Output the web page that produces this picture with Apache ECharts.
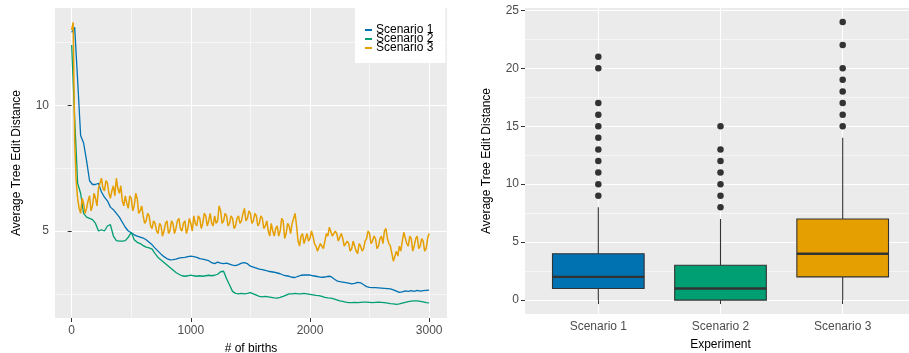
<!DOCTYPE html>
<html lang="en">
<head>
    <meta charset="UTF-8">
    <title>Average Tree Edit Distance</title>
    <script src="https://cdn.jsdelivr.net/npm/echarts@6/dist/echarts.min.js"></script>
</head>
<body style="margin:0;background:#fff;">
    <div id="main" style="width: 909px;height:353px;"></div>
    <script type="text/javascript">
        // left panel: Scenario 1 and 2 read every 25 births, Scenario 3 every 12.5 births
        var smoothStep = 25;
        var noisyStep = 12.5;
        var scenario1 = [
            12.9, 13.1, 11.0, 8.8, 8.5, 7.8, 7.0, 6.85,
            6.85, 6.9, 6.55, 6.35, 6.2, 5.95, 5.85, 5.7,
            5.55, 5.35, 5.15, 5.0, 4.93, 4.85, 4.8, 4.76,
            4.72, 4.65, 4.55, 4.45, 4.32, 4.2, 4.08, 3.98,
            3.9, 3.85, 3.86, 3.88, 3.92, 3.94, 3.95, 3.98,
            4.0, 3.98, 3.95, 3.9, 3.88, 3.85, 3.82, 3.74,
            3.7, 3.76, 3.72, 3.7, 3.72, 3.68, 3.64, 3.62,
            3.66, 3.72, 3.74, 3.7, 3.6, 3.56, 3.52, 3.48,
            3.46, 3.43, 3.4, 3.38, 3.36, 3.33, 3.3, 3.25,
            3.22, 3.2, 3.16, 3.15, 3.2, 3.24, 3.25, 3.25,
            3.25, 3.22, 3.2, 3.18, 3.16, 3.17, 3.2, 3.19,
            3.1, 3.02, 2.99, 2.97, 2.95, 2.93, 2.9, 2.92,
            2.96, 2.94, 2.86, 2.79, 2.76, 2.75, 2.75, 2.74,
            2.73, 2.72, 2.71, 2.7, 2.66, 2.61, 2.56, 2.58,
            2.62, 2.6, 2.63, 2.6, 2.64, 2.61, 2.63, 2.64,
            2.65
        ];
        var scenario2 = [
            12.4, 9.5, 6.9, 6.5, 5.7, 5.55, 5.5, 5.45,
            5.3, 5.0, 5.05, 5.0, 5.2, 5.25, 4.8, 4.62,
            4.6, 4.6, 4.62, 4.75, 4.95, 4.65, 4.55, 4.5,
            4.42, 4.36, 4.33, 4.28, 4.1, 3.95, 3.85, 3.75,
            3.65, 3.55, 3.45, 3.35, 3.28, 3.22, 3.2, 3.22,
            3.25, 3.22, 3.2, 3.22, 3.2, 3.22, 3.24, 3.22,
            3.24, 3.28, 3.38, 3.4, 3.1, 2.85, 2.6, 2.52,
            2.5, 2.52, 2.5, 2.52, 2.55, 2.5, 2.45, 2.4,
            2.38, 2.4, 2.38, 2.36, 2.34, 2.33, 2.36, 2.4,
            2.45, 2.5, 2.5, 2.52, 2.5, 2.5, 2.52, 2.5,
            2.48, 2.46, 2.44, 2.43, 2.4, 2.36, 2.34, 2.33,
            2.3, 2.26, 2.22, 2.2, 2.17, 2.15, 2.15, 2.16,
            2.15, 2.16, 2.17, 2.17, 2.16, 2.15, 2.16, 2.17,
            2.16, 2.15, 2.13, 2.11, 2.1, 2.08, 2.1, 2.13,
            2.16, 2.19, 2.21, 2.22, 2.22, 2.2, 2.18, 2.15,
            2.14
        ];
        var scenario3 = [
            13.0, 13.3, 8.6, 7.0, 6.3, 5.9, 5.7, 6.3, 6.1, 5.7, 5.9, 6.2, 6.4, 5.8, 6.0, 6.5,
            6.3, 6.0, 6.7, 6.9, 7.1, 6.7, 6.6, 7.0, 6.9, 6.5, 6.3, 6.6, 6.8, 6.4, 7.1, 6.7,
            6.5, 6.8, 6.2, 6.0, 6.4, 6.1, 5.9, 6.4, 6.3, 5.8, 6.0, 6.5, 6.3, 5.7, 5.8, 6.0,
            5.6, 5.3, 5.4, 5.7, 5.6, 5.2, 5.1, 5.4, 5.3, 5.0, 4.9, 5.3, 5.2, 4.8, 5.0, 5.3,
            5.4, 4.9, 5.0, 5.4, 5.3, 4.9, 5.1, 5.4, 5.5, 5.1, 5.0, 5.3, 5.4, 4.9, 5.1, 5.5,
            5.3, 5.0, 5.6, 5.3, 5.2, 5.6, 5.5, 5.1, 5.3, 5.7, 5.6, 5.2, 5.4, 5.7, 5.3, 5.2,
            5.6, 5.3, 5.4, 6.0, 5.8, 5.3, 5.4, 5.7, 5.6, 5.2, 5.3, 5.6, 5.5, 5.1, 5.2, 5.5,
            5.6, 5.3, 5.4, 5.7, 5.9, 5.4, 5.5, 5.8, 5.7, 5.3, 5.4, 5.7, 5.6, 5.2, 5.3, 5.6,
            5.5, 5.1, 5.2, 5.4, 5.0, 4.8, 5.3, 5.0, 4.8, 5.1, 5.2, 4.8, 5.0, 5.5, 5.4, 4.7,
            4.9, 5.3, 5.2, 4.9, 5.3, 5.5, 5.7, 5.2, 4.6, 4.4, 4.8, 4.9, 4.5, 4.7, 4.9, 4.6,
            4.7, 5.0, 4.8, 4.5, 4.4, 4.2, 4.2, 4.5, 4.4, 4.3, 4.6, 4.9, 4.8, 5.15, 5.1, 4.8,
            4.8, 5.0, 4.9, 4.6, 4.6, 4.9, 4.7, 4.4, 4.4, 4.6, 4.5, 4.2, 4.3, 4.6, 4.6, 4.2,
            4.1, 4.5, 4.4, 4.2, 4.3, 4.6, 4.7, 5.0, 4.9, 4.5, 4.6, 4.8, 4.7, 4.3, 4.4, 4.7,
            4.8, 4.5, 5.0, 5.1, 4.7, 4.5, 4.4, 4.1, 3.8, 3.75, 4.2, 4.0, 4.4, 4.2, 4.6, 4.95,
            4.9, 4.5, 4.4, 4.8, 4.7, 4.2, 4.4, 4.7, 4.8, 4.3, 4.4, 4.7, 4.6, 4.2, 4.3, 4.7,
            4.9
        ];
        var seriesNames = ['Scenario 1', 'Scenario 2', 'Scenario 3'];
        var colors = ['#0072B2', '#009E73', '#E69F00'];
        var birthTicks = [0, 1000, 2000, 3000];
        var birthMinor = [500, 1500, 2500];
        var distTicks = [5, 10];
        var distMinor = [2.5, 7.5, 12.5];

        // right panel: box stats [min, Q1, median, Q3, max] and outliers
        var categories = ['Scenario 1', 'Scenario 2', 'Scenario 3'];
        var boxStats = [
            [0, 1, 2, 4, 8],
            [0, 0, 1, 3, 7],
            [0, 2, 4, 7, 14]
        ];
        var outliers = [
            [9, 10, 11, 12, 13, 14, 15, 16, 17, 20, 21],
            [8, 9, 10, 11, 12, 13, 15],
            [15, 16, 17, 18, 19, 20, 22, 24]
        ];
        var boxTicks = [0, 5, 10, 15, 20, 25];
        var boxMinor = [2.5, 7.5, 12.5, 17.5, 22.5];

        var myChart = echarts.init(document.getElementById('main'), null, { renderer: 'canvas' });

        function toPairs(arr, step) {
            return arr.map(function (v, i) { return [i * step, v]; });
        }

        var tickLabel = { color: '#4D4D4D', fontSize: 12, fontFamily: 'Liberation Sans' };
        var nameStyle = { color: '#000', fontSize: 12, fontFamily: 'Liberation Sans' };

        var boxData = boxStats.map(function (s, i) { return [i + 1].concat(s); });
        var outlierData = [];
        outliers.forEach(function (list, i) {
            list.forEach(function (v) { outlierData.push([i + 1, v]); });
        });

        function renderBox(params, api) {
            var x = api.value(0);
            var lo = api.coord([x, api.value(1)]);
            var q1 = api.coord([x, api.value(2)]);
            var med = api.coord([x, api.value(3)]);
            var q3 = api.coord([x, api.value(4)]);
            var hi = api.coord([x, api.value(5)]);
            var half = api.size([0.75, 0])[0] / 2;
            var stroke = '#333333';
            return {
                type: 'group',
                children: [
                    { type: 'line', shape: { x1: lo[0], y1: lo[1], x2: q1[0], y2: q1[1] }, style: { stroke: stroke, lineWidth: 1.1 } },
                    { type: 'line', shape: { x1: q3[0], y1: q3[1], x2: hi[0], y2: hi[1] }, style: { stroke: stroke, lineWidth: 1.1 } },
                    { type: 'rect', shape: { x: q3[0] - half, y: q3[1], width: half * 2, height: q1[1] - q3[1] },
                      style: { fill: colors[params.dataIndex], stroke: stroke, lineWidth: 1.1 } },
                    { type: 'line', shape: { x1: med[0] - half, y1: med[1], x2: med[0] + half, y2: med[1] }, style: { stroke: stroke, lineWidth: 2.4 } }
                ]
            };
        }

        var option = {
            animation: false,
            backgroundColor: '#ffffff',
            textStyle: { fontFamily: 'Liberation Sans' },
            grid: [
                { left: 55, width: 392, top: 8, height: 310, show: true, backgroundColor: '#EBEBEB', borderWidth: 0, outerBoundsMode: 'none', containLabel: false },
                { left: 525, width: 391, top: 8, height: 306, show: true, backgroundColor: '#EBEBEB', borderWidth: 0, outerBoundsMode: 'none', containLabel: false }
            ],
            legend: {
                data: seriesNames,
                orient: 'vertical',
                left: 355,
                top: 8,
                width: 92,
                backgroundColor: '#ffffff',
                padding: [16, 12, 9, 10],
                icon: 'rect',
                itemWidth: 7,
                itemHeight: 2,
                itemGap: -3,
                textStyle: { color: '#000', fontSize: 12, lineHeight: 9, padding: [0, 0, 0, -1] }
            },
            xAxis: [
                {
                    type: 'value', gridIndex: 0, min: -140, max: 3150,
                    name: '# of births', nameLocation: 'middle', nameGap: 25, nameMoveOverlap: false, nameTextStyle: nameStyle,
                    axisLine: { show: false },
                    axisTick: { show: true, length: 4, customValues: birthTicks, lineStyle: { color: '#333333' } },
                    axisLabel: Object.assign({
                        margin: 7, customValues: birthTicks,
                        formatter: function (v) { return String(v); }
                    }, tickLabel),
                    splitLine: { show: true, lineStyle: { color: '#ffffff', width: 1.1 } }
                },
                {
                    type: 'value', gridIndex: 0, min: -140, max: 3150, position: 'top',
                    axisLine: { show: false }, axisLabel: { show: false },
                    axisTick: { show: false, customValues: birthMinor },
                    splitLine: { show: true, lineStyle: { color: '#ffffff', width: 0.55 } }
                },
                {
                    type: 'value', gridIndex: 1, min: 0.4, max: 3.6,
                    name: 'Experiment', nameLocation: 'middle', nameGap: 25, nameMoveOverlap: false, nameTextStyle: nameStyle,
                    axisLine: { show: false },
                    axisTick: { show: true, length: 4, customValues: [1, 2, 3], lineStyle: { color: '#333333' } },
                    axisLabel: Object.assign({
                        margin: 7, customValues: [1, 2, 3],
                        formatter: function (v) { return categories[Math.round(v) - 1]; }
                    }, tickLabel),
                    splitLine: { show: true, lineStyle: { color: '#ffffff', width: 1.1 } }
                }
            ],
            yAxis: [
                {
                    type: 'value', gridIndex: 0, min: 1.54, max: 13.87,
                    name: 'Average Tree Edit Distance', nameLocation: 'middle', nameGap: 32, nameTextStyle: nameStyle,
                    axisLine: { show: false },
                    axisTick: { show: true, length: 4, customValues: distTicks, lineStyle: { color: '#333333' } },
                    axisLabel: Object.assign({ margin: 6, customValues: distTicks }, tickLabel),
                    splitLine: { show: true, lineStyle: { color: '#ffffff', width: 1.1 } }
                },
                {
                    type: 'value', gridIndex: 0, min: 1.54, max: 13.87, position: 'right',
                    axisLine: { show: false }, axisLabel: { show: false },
                    axisTick: { show: false, customValues: distMinor },
                    splitLine: { show: true, lineStyle: { color: '#ffffff', width: 0.55 } }
                },
                {
                    type: 'value', gridIndex: 1, min: -1.2, max: 25.2,
                    name: 'Average Tree Edit Distance', nameLocation: 'middle', nameGap: 32, nameTextStyle: nameStyle,
                    axisLine: { show: false },
                    axisTick: { show: true, length: 4, customValues: boxTicks, lineStyle: { color: '#333333' } },
                    axisLabel: Object.assign({ margin: 6, customValues: boxTicks }, tickLabel),
                    splitLine: { show: true, lineStyle: { color: '#ffffff', width: 1.1 } }
                },
                {
                    type: 'value', gridIndex: 1, min: -1.2, max: 25.2, position: 'right',
                    axisLine: { show: false }, axisLabel: { show: false },
                    axisTick: { show: false, customValues: boxMinor },
                    splitLine: { show: true, lineStyle: { color: '#ffffff', width: 0.55 } }
                }
            ],
            series: [
                {
                    name: seriesNames[0], type: 'line', xAxisIndex: 0, yAxisIndex: 0,
                    data: toPairs(scenario1, smoothStep), showSymbol: false, color: colors[0],
                    lineStyle: { width: 1.3 }
                },
                {
                    name: seriesNames[1], type: 'line', xAxisIndex: 0, yAxisIndex: 0,
                    data: toPairs(scenario2, smoothStep), showSymbol: false, color: colors[1],
                    lineStyle: { width: 1.3 }
                },
                {
                    name: seriesNames[2], type: 'line', xAxisIndex: 0, yAxisIndex: 0,
                    data: toPairs(scenario3, noisyStep), showSymbol: false, color: colors[2],
                    lineStyle: { width: 1.5 }
                },
                {
                    type: 'custom', xAxisIndex: 2, yAxisIndex: 2,
                    data: boxData,
                    encode: { x: 0, y: [1, 2, 3, 4, 5] },
                    renderItem: renderBox
                },
                {
                    type: 'scatter', xAxisIndex: 2, yAxisIndex: 2,
                    data: outlierData, symbolSize: 6.5,
                    itemStyle: { color: '#333333', opacity: 1 }
                }
            ]
        };

        myChart.setOption(option);
    </script>
</body>
</html>
